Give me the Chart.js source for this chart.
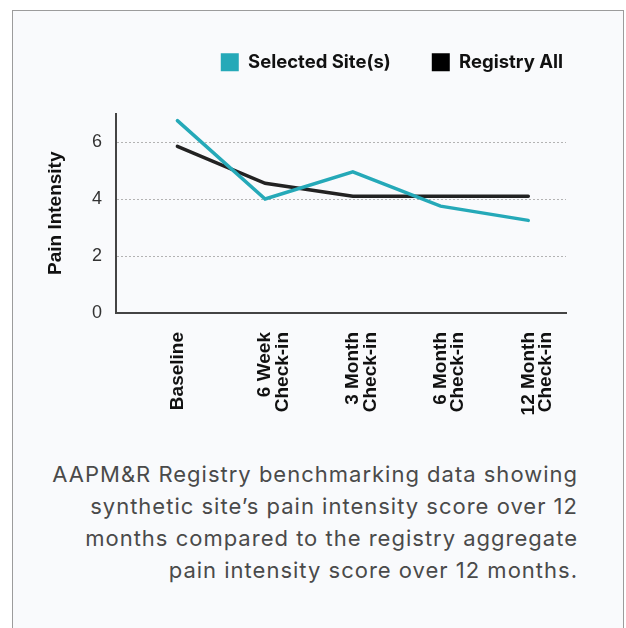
<!DOCTYPE html>
<html lang="en">
<head>
    <meta charset="UTF-8">
    <title>Pain Intensity Benchmark</title>
    <script src="https://cdn.jsdelivr.net/npm/chart.js"></script>
    <style>
        body, html {
            margin: 0;
            padding: 0;
            width: 626px;
            height: 628px;
            overflow: hidden;
            background-color: #ffffff;
        }
        .card {
            position: absolute;
            left: 12px;
            top: 10px;
            width: 610px;
            height: 700px;
            border: 1px solid #9c9c9c;
            background-color: #f9fafc;
        }
        .chart-box {
            position: absolute;
            left: 0;
            top: 0;
            width: 626px;
            height: 440px;
        }
        .caption {
            position: absolute;
            right: 48px;
            top: 458px;
            text-align: right;
            font-family: 'Inter', 'Noto Sans', sans-serif;
            font-size: 22px;
            letter-spacing: 1px;
            line-height: 32px;
            color: #4a4a4a;
            white-space: nowrap;
        }
    </style>
</head>
<body>
    <div class="card"></div>
    <div class="chart-box">
        <canvas id="painChart" width="626" height="440"></canvas>
    </div>
    <div class="caption">
        AAPM&amp;R Registry benchmarking data showing<br>
        synthetic site’s pain intensity score over 12<br>
        months compared to the registry aggregate<br>
        pain intensity score over 12 months.
    </div>
    <script>
        const categoryLabels = [
            ['Baseline'],
            ['6 Week', 'Check-in'],
            ['3 Month', 'Check-in'],
            ['6 Month', 'Check-in'],
            ['12 Month', 'Check-in']
        ];
        const selectedSite = [6.75, 4.0, 4.95, 3.75, 3.25];
        const registryAll = [5.85, 4.55, 4.1, 4.1, 4.1];
        const yTicks = [0, 2, 4, 6];

        const teal = '#25a9b8';
        const dark = '#222222';
        const axisFont = "'Liberation Sans', Arial, sans-serif";

        function toPoints(values) {
            return values.map((v, i) => ({ x: i, y: v }));
        }

        // extra room between the legend and the plot
        const legendGap = {
            id: 'legendGap',
            beforeInit(chart) {
                const fit = chart.legend.fit;
                chart.legend.fit = function () {
                    fit.call(this);
                    this.height += 32;
                };
            }
        };

        new Chart(document.getElementById('painChart'), {
            type: 'line',
            data: {
                datasets: [
                    {
                        label: 'Selected Site(s)',
                        data: toPoints(selectedSite),
                        borderColor: teal,
                        backgroundColor: teal,
                        borderWidth: 3.5,
                        borderCapStyle: 'round',
                        pointRadius: 0,
                        tension: 0
                    },
                    {
                        label: 'Registry All',
                        data: toPoints(registryAll),
                        borderColor: dark,
                        backgroundColor: '#000000',
                        borderWidth: 3.5,
                        borderCapStyle: 'round',
                        pointRadius: 0,
                        tension: 0
                    }
                ]
            },
            plugins: [legendGap],
            options: {
                responsive: false,
                animation: false,
                layout: { padding: { left: 40, top: 12, right: 22, bottom: 0 } },
                plugins: {
                    tooltip: { enabled: false },
                    legend: {
                        position: 'top',
                        align: 'end',
                        labels: {
                            boxWidth: 18,
                            boxHeight: 18,
                            padding: 41,
                            color: '#111111',
                            font: { family: "'Inter', sans-serif", size: 18.5, weight: 'bold' },
                            generateLabels: chart => Chart.defaults.plugins.legend.labels.generateLabels(chart)
                                .map(item => ({ ...item, lineWidth: 0 }))
                        }
                    }
                },
                scales: {
                    x: {
                        type: 'linear',
                        min: -0.7,
                        max: 4.43,
                        grid: { display: false, drawTicks: false },
                        border: { display: true, color: '#444444', width: 2 },
                        afterBuildTicks: scale => {
                            scale.ticks = categoryLabels.map((_, i) => ({ value: i }));
                        },
                        afterFit: scale => {
                            scale.height = 127;
                            scale.paddingLeft = 0;
                            scale.paddingRight = 60;
                        },
                        ticks: {
                            autoSkip: false,
                            minRotation: 90,
                            maxRotation: 90,
                            padding: 19,
                            color: '#111111',
                            font: { family: axisFont, size: 19, weight: 'bold', lineHeight: 0.92 },
                            callback: value => categoryLabels[value]
                        }
                    },
                    y: {
                        min: 0,
                        max: 7,
                        grid: { color: '#b3b3b3', lineWidth: 1, drawTicks: false },
                        border: { display: true, color: '#444444', width: 2, dash: [2, 2] },
                        afterBuildTicks: scale => {
                            scale.ticks = yTicks.map(v => ({ value: v }));
                        },
                        afterFit: scale => {
                            scale.width = 76;
                        },
                        title: {
                            display: true,
                            text: 'Pain Intensity',
                            color: '#111111',
                            padding: { top: 4, bottom: 0 },
                            font: { family: axisFont, size: 19, weight: 'bold' }
                        },
                        ticks: {
                            padding: 14,
                            color: '#333333',
                            font: { family: axisFont, size: 18 }
                        }
                    }
                }
            }
        });
    </script>
</body>
</html>
